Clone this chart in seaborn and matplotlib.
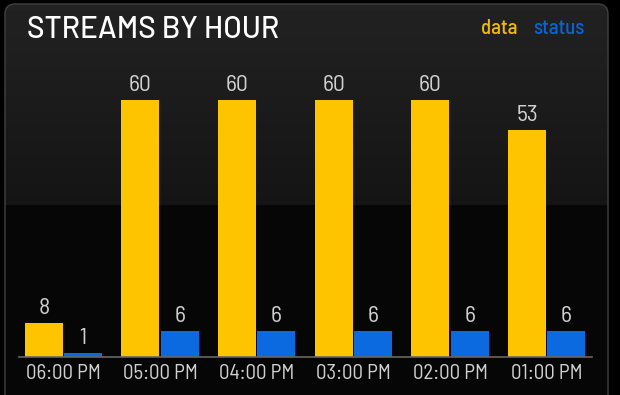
import numpy as np
import pandas as pd
import seaborn as sns
import matplotlib
matplotlib.use("Agg")
import matplotlib.pyplot as plt
from matplotlib.patches import FancyBboxPatch

hours = ["06:00 PM", "05:00 PM", "04:00 PM", "03:00 PM", "02:00 PM", "01:00 PM"]
data_vals = [8, 60, 60, 60, 60, 53]
status_vals = [1, 6, 6, 6, 6, 6]
series_names = ["data", "status"]
colors = {"data": "#ffc400", "status": "#0b6ae0"}

df = pd.DataFrame({
    "hour": hours * 2,
    "value": data_vals + status_vals,
    "series": ["data"] * len(hours) + ["status"] * len(hours),
})

sns.set_theme(style="dark")
FONT = ["Barlow Semi Condensed", "DejaVu Sans"]
TFONT = ["Barlow", "DejaVu Sans"]
plt.rcParams["font.family"] = FONT

W, H = 620, 395
fig = plt.figure(figsize=(W / 100, H / 100), dpi=100, facecolor="black")

# background panel with gradient
bg = fig.add_axes([0, 0, 1, 1], zorder=-1)
bg.set_xlim(0, W)
bg.set_ylim(H, 0)
bg.axis("off")
bg.set_facecolor("black")
ys = np.arange(H)
col = np.where(ys < 205, 0.135 - 0.055 * ys / 205, 0.025)
img = np.repeat(col[:, None], 4, axis=1)
panel = FancyBboxPatch((5, 4), 603, H + 20, boxstyle="round,pad=0,rounding_size=10",
                       facecolor="none", edgecolor="#404040", lw=1.0, transform=bg.transData)
bg.add_patch(panel)
im = bg.imshow(img, cmap="gray", vmin=0, vmax=1, extent=(5, 608, H, 0), aspect="auto")
im.set_clip_path(panel)

# main axes
x0, x1 = 15, 595
left, right = x0 / W, x1 / W
bottom, top = (H - 357) / H, (H - 40) / H
ax = fig.add_axes([left, bottom, right - left, top - bottom])
ax.set_facecolor("none")
sns.barplot(data=df, x="hour", y="value", hue="series", palette=colors,
            width=0.81, gap=0.03, legend=False, ax=ax, saturation=1)
ax.set_ylim(0, 74)
ax.set_xlim(-0.5, len(hours) - 0.5)
for c in ax.containers:
    ax.bar_label(c, padding=3, color="#d0d0d0", fontsize=17, family=FONT)
for p in ax.patches:
    p.set_linewidth(0)
ax.set_xlabel("")
ax.set_ylabel("")
ax.set_yticks([])
ax.grid(False)
for s in ["top", "right", "left"]:
    ax.spines[s].set_visible(False)
ppx = (x1 - x0) / len(hours)
ax.spines["bottom"].set_bounds((19 - x0) / ppx - 0.5, (592 - x0) / ppx - 0.5)
ax.spines["bottom"].set_color("#666666")
ax.spines["bottom"].set_linewidth(1.2)
ax.tick_params(axis="x", length=0, pad=5, labelsize=15, labelcolor="#d0d0d0")

fig.text(27 / W, 1 - 30 / H, "STREAMS BY HOUR", color="white", fontsize=21.5,
         fontweight="medium", va="center", ha="left", family=TFONT)
fig.text(517 / W, 1 - 28 / H, "data", color="#f0bb00", fontsize=15,
         fontweight="medium", va="center", ha="right", family=FONT)
fig.text(585 / W, 1 - 28 / H, "status", color="#0a64d8", fontsize=15,
         fontweight="medium", va="center", ha="right", family=FONT)

fig.savefig("out.png", dpi=100, facecolor="black")
